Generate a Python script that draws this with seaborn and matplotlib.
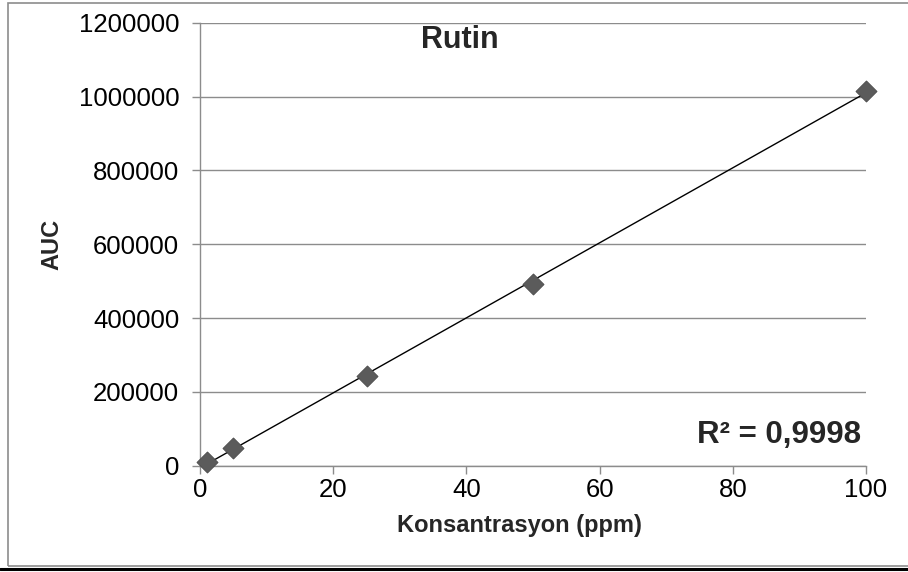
import matplotlib
matplotlib.use("Agg")
import matplotlib.pyplot as plt
import seaborn as sns
import pandas as pd
from matplotlib.patches import Rectangle
from matplotlib.lines import Line2D

# Calibration data for rutin
konsantrasyon = [1, 5, 25, 50, 100]          # ppm
auc = [10800, 47000, 243000, 492500, 1016000]
x_ticks = [0, 20, 40, 60, 80, 100]
y_ticks = [0, 200000, 400000, 600000, 800000, 1000000, 1200000]
title_text = "Rutin"
r2_text = "R² = 0,9998"
x_label = "Konsantrasyon (ppm)"
y_label = "AUC"

df = pd.DataFrame({"Konsantrasyon": konsantrasyon, "AUC": auc})

sns.set_style("white")
plt.rcParams["font.family"] = ["Liberation Sans", "DejaVu Sans"]

W, H = 908, 572
fig = plt.figure(figsize=(W / 100, H / 100), dpi=100)
ax = fig.add_axes([200 / W, 1 - 465.7 / H, 666 / W, 443 / H])

# linear trend line over the data range
sns.regplot(data=df, x="Konsantrasyon", y="AUC", scatter=False, ci=None,
            color="black", line_kws={"lw": 1.0}, ax=ax)
sns.scatterplot(data=df, x="Konsantrasyon", y="AUC", marker="D", s=115,
                color="#5b5b5b", edgecolor="#4a4a4a", linewidth=0.6,
                zorder=4, clip_on=False, ax=ax)

ax.set_xlim(0, 100)
ax.set_ylim(0, 1200000)
ax.set_xticks(x_ticks)
ax.set_yticks(y_ticks)
ax.set_xticklabels([str(v) for v in x_ticks])
ax.set_yticklabels([str(v) for v in y_ticks])
ax.yaxis.grid(True, color="#8c8c8c", lw=1.0)
ax.set_axisbelow(True)

for side in ("top", "right"):
    ax.spines[side].set_visible(False)
for side in ("left", "bottom"):
    ax.spines[side].set_color("#8c8c8c")
    ax.spines[side].set_linewidth(1.0)

ax.tick_params(axis="both", which="major", length=6, width=1.0,
               color="#8c8c8c", labelsize=18.5, labelcolor="black",
               direction="out")
ax.tick_params(axis="x", pad=3)
ax.tick_params(axis="y", pad=9)
ax.tick_params(left=True, bottom=True)

ax.set_xlabel(x_label, fontsize=17, fontweight="bold")
ax.set_ylabel(y_label, fontsize=17, fontweight="bold")
ax.xaxis.set_label_coords(0.48, -0.11)
ax.yaxis.set_label_coords(-0.205, 0.5)

ax.text(0.39, 0.96, title_text, transform=ax.transAxes, fontsize=22,
        fontweight="bold", ha="center", va="center")
ax.text(0.992, 0.07, r2_text, transform=ax.transAxes, fontsize=22.5,
        fontweight="bold", ha="right", va="center")

# outer frame of the figure
fig.patches.append(Rectangle((8 / W, 1 - 566 / H), 1.2, 563 / H,
                             transform=fig.transFigure, fill=False,
                             edgecolor="#8c8c8c", lw=1.2))
fig.lines.append(Line2D([0, 1], [1 - 569.3 / H] * 2, transform=fig.transFigure,
                        color="black", lw=2.2))

fig.savefig("out.png", dpi=100)
